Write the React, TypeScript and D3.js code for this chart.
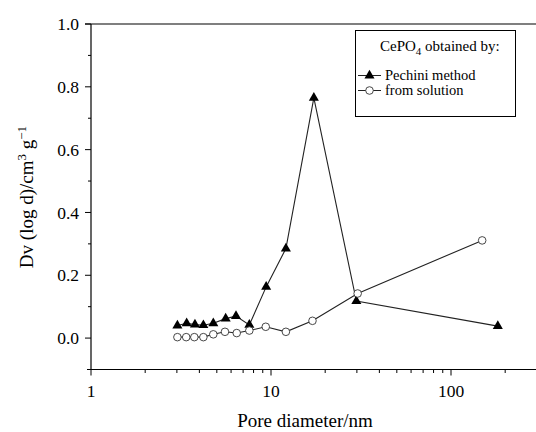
import React, { useEffect, useRef } from 'react';
import * as d3 from 'd3';

// Pore size distribution of CePO4
const pechiniX = [3.02, 3.4, 3.78, 4.21, 4.78, 5.6, 6.39, 7.58, 9.4, 12.1, 17.3, 29.8, 182];
const pechiniY = [0.04, 0.047, 0.043, 0.041, 0.047, 0.062, 0.07, 0.042, 0.163, 0.285, 0.765, 0.118, 0.038];

const solutionX = [3.02, 3.38, 3.75, 4.21, 4.78, 5.55, 6.45, 7.58, 9.35, 12.1, 17.0, 30.3, 149];
const solutionY = [0.003, 0.003, 0.003, 0.003, 0.012, 0.02, 0.016, 0.024, 0.036, 0.02, 0.055, 0.142, 0.311];

const yTicks = [0.0, 0.2, 0.4, 0.6, 0.8, 1.0];
const xTicks = [1, 10, 100];

const App = () => {
  const svgRef = useRef<SVGSVGElement>(null);

  useEffect(() => {
    document.body.style.margin = '0';
    const svg = d3.select(svgRef.current);
    svg.selectAll('*').remove();

    const width = 536;
    const font = '"Liberation Serif", "Times New Roman", serif';

    const x = d3.scaleLog().domain([1, 100]).range([91, 451]);
    const y = d3.scaleLinear().domain([-0.1, 1.0]).range([369.5, 24]);

    const g = svg.append('g');

    // frame: left and top, bottom axis running to the edge
    g.append('line').attr('x1', 91).attr('x2', 91).attr('y1', y(1.0)).attr('y2', y(-0.1))
      .attr('stroke', '#000').attr('stroke-width', 1.2);
    g.append('line').attr('x1', 85).attr('x2', width).attr('y1', y(1.0)).attr('y2', y(1.0))
      .attr('stroke', '#000').attr('stroke-width', 1.2);
    g.append('line').attr('x1', 87).attr('x2', width).attr('y1', y(-0.1)).attr('y2', y(-0.1))
      .attr('stroke', '#000').attr('stroke-width', 1.2);

    // y ticks
    d3.range(-0.1, 1.001, 0.1).forEach(v => {
      const major = yTicks.some(t => Math.abs(t - v) < 1e-6);
      g.append('line').attr('x1', 91).attr('x2', major ? 85 : 88)
        .attr('y1', y(v)).attr('y2', y(v)).attr('stroke', '#000');
    });
    yTicks.forEach(t => {
      g.append('text').attr('x', 79).attr('y', y(t)).attr('dy', '0.35em')
        .attr('text-anchor', 'end').attr('font-family', font).attr('font-size', 17.5)
        .text(t.toFixed(1));
    });

    // x ticks (log, major + minor)
    const minor: number[] = [];
    [1, 10, 100].forEach(d => { for (let k = 2; k <= 9; k++) if (x(k * d) <= width) minor.push(k * d); });
    minor.forEach(v => {
      g.append('line').attr('x1', x(v)).attr('x2', x(v)).attr('y1', y(-0.1)).attr('y2', y(-0.1) + 3.5)
        .attr('stroke', '#000');
    });
    xTicks.forEach(t => {
      g.append('line').attr('x1', x(t)).attr('x2', x(t)).attr('y1', y(-0.1)).attr('y2', y(-0.1) + 6)
        .attr('stroke', '#000');
      g.append('text').attr('x', x(t)).attr('y', 397).attr('text-anchor', 'middle')
        .attr('font-family', font).attr('font-size', 17.5).text(t);
    });

    // axis titles
    g.append('text').attr('x', 305).attr('y', 427).attr('text-anchor', 'middle')
      .attr('font-family', font).attr('font-size', 19).text('Pore diameter/nm');
    const yl = g.append('text').attr('transform', `translate(33,${197}) rotate(-90)`)
      .attr('text-anchor', 'middle').attr('font-family', font).attr('font-size', 19);
    yl.append('tspan').text('Dv (log d)/cm');
    yl.append('tspan').attr('dy', -7).attr('font-size', 13).text('3');
    yl.append('tspan').attr('dy', 7).text(' g');
    yl.append('tspan').attr('dy', -7).attr('font-size', 13).text('\u22121');

    const line = d3.line<[number, number]>().x(d => x(d[0])).y(d => y(d[1]));
    const pech = pechiniX.map((v, i) => [v, pechiniY[i]] as [number, number]);
    const sol = solutionX.map((v, i) => [v, solutionY[i]] as [number, number]);

    const tri = d3.symbol().type(d3.symbolTriangle).size(44);

    g.append('path').attr('d', line(pech)).attr('fill', 'none').attr('stroke', '#222').attr('stroke-width', 1.1);
    g.append('path').attr('d', line(sol)).attr('fill', 'none').attr('stroke', '#222').attr('stroke-width', 1.1);

    g.selectAll('.tri').data(pech).enter().append('path').attr('class', 'tri')
      .attr('d', tri).attr('transform', d => `translate(${x(d[0])},${y(d[1])})`).attr('fill', '#000');
    g.selectAll('.circ').data(sol).enter().append('circle').attr('class', 'circ')
      .attr('cx', d => x(d[0])).attr('cy', d => y(d[1])).attr('r', 3.8)
      .attr('fill', '#fff').attr('stroke', '#333').attr('stroke-width', 0.9);

    // legend
    const lg = g.append('g');
    lg.append('rect').attr('x', 355.5).attr('y', 30.5).attr('width', 160).attr('height', 86)
      .attr('fill', '#fff').attr('stroke', '#000').attr('stroke-width', 1);
    const title = lg.append('text').attr('x', 380).attr('y', 51).attr('font-family', font).attr('font-size', 15);
    title.append('tspan').text('CePO');
    title.append('tspan').attr('dy', 4).attr('font-size', 11).text('4');
    title.append('tspan').attr('dy', -4).text(' obtained by:');

    const rows = [{ label: 'Pechini method', y: 75.5, tri: true }, { label: 'from solution', y: 90.5, tri: false }];
    rows.forEach(r => {
      lg.append('line').attr('x1', 358).attr('x2', 381).attr('y1', r.y).attr('y2', r.y).attr('stroke', '#222');
      if (r.tri) {
        lg.append('path').attr('d', tri).attr('transform', `translate(369.5,${r.y})`).attr('fill', '#000');
      } else {
        lg.append('circle').attr('cx', 369.5).attr('cy', r.y).attr('r', 3.8)
          .attr('fill', '#fff').attr('stroke', '#333').attr('stroke-width', 0.9);
      }
      lg.append('text').attr('x', 385).attr('y', r.y).attr('dy', '0.33em')
        .attr('font-family', font).attr('font-size', 14.5).text(r.label);
    });
  }, []);

  return (
    <div>
      <svg ref={svgRef} width={536} height={432} style={{ display: 'block', background: '#fff' }}></svg>
    </div>
  );
};

export default App;
